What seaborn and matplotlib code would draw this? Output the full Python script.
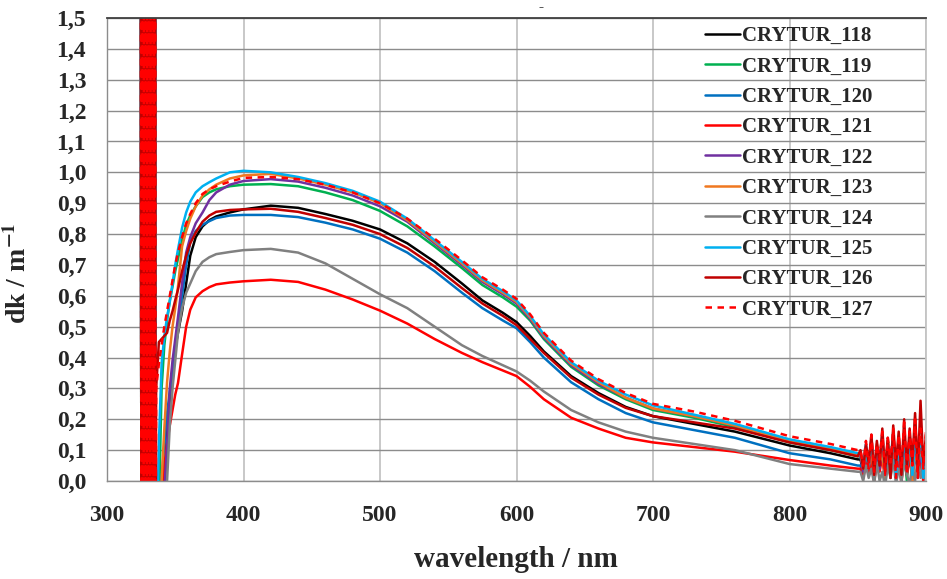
import numpy as np
import pandas as pd
import matplotlib
matplotlib.use("Agg")
import matplotlib.pyplot as plt
import seaborn as sns

# ---------------- data ----------------
series_names = ["CRYTUR_118", "CRYTUR_119", "CRYTUR_120", "CRYTUR_121", "CRYTUR_122",
                "CRYTUR_123", "CRYTUR_124", "CRYTUR_125", "CRYTUR_126", "CRYTUR_127"]
series_colors = ["#000000", "#00B050", "#0070C0", "#FF0000", "#7030A0",
                 "#F07820", "#808080", "#00B0F0", "#C00000", "#FF0000"]

# noisy detector region at the left edge
left_wl = [324.8, 325.2, 325.6, 326.0, 326.4, 326.8, 327.2, 327.6, 328.0, 328.4,
           328.8, 329.2, 329.6, 330.0, 330.4, 330.8, 331.2, 331.6, 332.0, 332.4,
           332.8, 333.2, 333.6, 334.0, 334.4, 334.8, 335.2, 335.6]
left_noise = [2.0, -0.4, 2.2, -0.5, 1.9, -0.3, 2.3, -0.4, 2.1, -0.5,
              2.0, -0.3, 2.4, -0.4, 1.8, -0.5, 2.2, -0.3, 2.0, -0.4,
              2.3, -0.5, 1.9, -0.3, 2.1, -0.4, 2.0, -0.3]

# smooth part of the spectra
wl = [336, 338, 340, 342, 344, 346, 348, 350, 352, 355, 358, 361, 365, 370, 375, 380,
      390, 400, 420, 440, 460, 480, 500, 520, 540, 560, 575, 590, 600, 610, 620, 640,
      660, 680, 700, 730, 760, 800, 830, 850]

dk_118 = [-0.3, -0.3, -0.2, -0.03, 0.15, 0.27, 0.36, 0.43, 0.48, 0.55, 0.64, 0.73, 0.79, 0.825, 0.845, 0.857,
          0.87, 0.88, 0.892, 0.885, 0.865, 0.843, 0.815, 0.77, 0.71, 0.64, 0.585, 0.545, 0.515, 0.47, 0.42, 0.34,
          0.285, 0.24, 0.21, 0.185, 0.16, 0.115, 0.09, 0.07]
dk_119 = [-0.3, -0.1, 0.3, 0.44, 0.52, 0.585, 0.63, 0.68, 0.72, 0.78, 0.83, 0.86, 0.89, 0.92, 0.935, 0.945,
          0.955, 0.96, 0.962, 0.955, 0.935, 0.91, 0.875, 0.825, 0.76, 0.69, 0.635, 0.595, 0.565, 0.52, 0.46, 0.37,
          0.31, 0.265, 0.23, 0.205, 0.175, 0.125, 0.1, 0.08]
dk_120 = [-0.3, -0.2, 0.0, 0.12, 0.22, 0.29, 0.35, 0.42, 0.5, 0.6, 0.7, 0.775, 0.81, 0.83, 0.842, 0.852,
          0.86, 0.862, 0.862, 0.855, 0.837, 0.815, 0.785, 0.74, 0.68, 0.61, 0.56, 0.52, 0.495, 0.45, 0.4, 0.32,
          0.265, 0.22, 0.19, 0.165, 0.14, 0.09, 0.07, 0.05]
dk_121 = [-0.3, -0.3, -0.1, 0.05, 0.12, 0.18, 0.23, 0.28, 0.317, 0.41, 0.5, 0.555, 0.595, 0.615, 0.628, 0.637,
          0.643, 0.647, 0.652, 0.645, 0.62, 0.588, 0.552, 0.51, 0.46, 0.415, 0.385, 0.358, 0.34, 0.305, 0.265, 0.205,
          0.17, 0.14, 0.125, 0.11, 0.095, 0.068, 0.05, 0.04]
dk_122 = [-0.3, -0.3, -0.2, -0.03, 0.12, 0.3, 0.39, 0.46, 0.53, 0.64, 0.74, 0.79, 0.835, 0.87, 0.91, 0.935,
          0.96, 0.972, 0.978, 0.97, 0.95, 0.925, 0.89, 0.84, 0.77, 0.7, 0.645, 0.605, 0.575, 0.525, 0.465, 0.375,
          0.315, 0.27, 0.235, 0.21, 0.18, 0.13, 0.105, 0.085]
dk_123 = [-0.3, -0.2, 0.0, 0.17, 0.32, 0.42, 0.5, 0.56, 0.63, 0.76, 0.81, 0.85, 0.89, 0.925, 0.945, 0.96,
          0.98, 0.99, 0.995, 0.98, 0.96, 0.935, 0.9, 0.845, 0.775, 0.705, 0.65, 0.61, 0.58, 0.53, 0.47, 0.38,
          0.32, 0.27, 0.235, 0.21, 0.18, 0.13, 0.105, 0.085]
dk_124 = [-0.3, -0.3, -0.25, -0.15, 0.0, 0.18, 0.3, 0.39, 0.48, 0.56, 0.61, 0.64, 0.68, 0.71, 0.725, 0.735,
          0.742, 0.748, 0.752, 0.74, 0.705, 0.655, 0.605, 0.56, 0.5, 0.44, 0.405, 0.375, 0.355, 0.325, 0.29, 0.23,
          0.19, 0.16, 0.14, 0.12, 0.1, 0.055, 0.04, 0.03]
dk_125 = [-0.3, 0.12, 0.38, 0.47, 0.53, 0.58, 0.64, 0.7, 0.75, 0.82, 0.87, 0.905, 0.935, 0.955, 0.968, 0.98,
          1.0, 1.005, 1.0, 0.985, 0.965, 0.94, 0.905, 0.85, 0.78, 0.71, 0.655, 0.615, 0.585, 0.535, 0.475, 0.385,
          0.325, 0.28, 0.245, 0.215, 0.185, 0.135, 0.11, 0.09]
dk_126 = [0.3, 0.45, 0.46, 0.47, 0.48, 0.52, 0.55, 0.586, 0.62, 0.68, 0.73, 0.77, 0.805, 0.84, 0.86, 0.872,
          0.878, 0.88, 0.882, 0.872, 0.852, 0.83, 0.8, 0.755, 0.695, 0.625, 0.575, 0.535, 0.505, 0.46, 0.415, 0.335,
          0.28, 0.237, 0.21, 0.19, 0.17, 0.125, 0.1, 0.08]
dk_127 = [0.3, 0.38, 0.44, 0.5, 0.55, 0.6, 0.65, 0.7, 0.74, 0.79, 0.835, 0.865, 0.9, 0.93, 0.945, 0.955,
          0.97, 0.982, 0.985, 0.978, 0.96, 0.935, 0.9, 0.85, 0.785, 0.715, 0.66, 0.62, 0.59, 0.54, 0.48, 0.39,
          0.33, 0.285, 0.25, 0.225, 0.195, 0.145, 0.12, 0.1]

# noisy region at the right edge
right_wl = [852, 854, 856, 858, 860, 862, 864, 866, 868, 870, 872, 874, 876, 878, 880,
            882, 884, 886, 888, 890, 892, 894, 896, 898, 900]
rn_118 = [0.07, 0.03, 0.09, 0.05, 0.11, 0.02, 0.08, 0.06, 0.12, 0.03, 0.1, 0.01, 0.13, 0.04, 0.09,
          0.02, 0.12, 0.05, 0.1, 0.01, 0.14, 0.03, 0.09, 0.02, 0.11]
rn_119 = [0.08, 0.04, 0.1, 0.05, 0.12, 0.02, 0.09, 0.06, 0.11, 0.01, 0.13, 0.04, 0.08, 0.02, 0.12,
          0.05, 0.1, 0.0, 0.13, 0.03, 0.09, 0.05, 0.11, 0.01, 0.07]
rn_120 = [0.05, 0.02, 0.07, 0.03, 0.1, 0.01, 0.08, 0.04, 0.12, 0.0, 0.09, 0.03, 0.11, 0.02, 0.13,
          0.0, 0.1, 0.05, 0.14, 0.01, 0.09, 0.03, 0.12, 0.02, 0.08]
rn_121 = [0.04, 0.01, 0.06, 0.02, 0.07, 0.0, 0.05, 0.03, 0.08, 0.0, 0.06, 0.02, 0.09, 0.01, 0.07,
          -0.01, 0.1, 0.02, 0.08, 0.0, 0.2, 0.03, 0.06, 0.0, 0.05]
rn_122 = [0.08, 0.03, 0.1, 0.06, 0.13, 0.02, 0.11, 0.04, 0.14, 0.01, 0.1, 0.05, 0.15, 0.02, 0.12,
          0.0, 0.13, 0.04, 0.11, 0.02, 0.14, 0.01, 0.1, 0.03, 0.12]
rn_123 = [0.09, 0.04, 0.11, 0.05, 0.1, 0.02, 0.12, 0.06, 0.09, 0.01, 0.13, 0.04, 0.1, 0.02, 0.14,
          0.03, 0.09, 0.05, 0.12, 0.0, 0.11, 0.04, 0.13, 0.02, 0.09]
rn_124 = [0.03, 0.0, 0.05, 0.01, 0.04, -0.01, 0.06, 0.0, 0.03, -0.02, 0.05, 0.01, 0.07, -0.01, 0.04,
          0.0, 0.06, 0.02, -0.01, 0.05, 0.0, 0.08, 0.01, 0.04, 0.0]
rn_125 = [0.09, 0.05, 0.12, 0.04, 0.14, 0.03, 0.11, 0.07, 0.15, 0.02, 0.12, 0.06, 0.16, 0.01, 0.13,
          0.05, 0.11, 0.03, 0.15, 0.02, 0.12, 0.06, 0.14, 0.01, 0.1]
rn_126 = [0.1, 0.04, 0.12, 0.06, 0.15, 0.02, 0.13, 0.05, 0.17, 0.03, 0.14, 0.01, 0.18, 0.05, 0.16,
          0.02, 0.2, 0.04, 0.17, 0.06, 0.22, 0.03, 0.26, 0.05, 0.15]
rn_127 = [0.1, 0.05, 0.13, 0.04, 0.15, 0.03, 0.12, 0.07, 0.16, 0.02, 0.14, 0.06, 0.17, 0.01, 0.15,
          0.04, 0.19, 0.02, 0.16, 0.05, 0.2, 0.01, 0.17, 0.04, 0.16]

smooth_values = [dk_118, dk_119, dk_120, dk_121, dk_122, dk_123, dk_124, dk_125, dk_126, dk_127]
right_values = [rn_118, rn_119, rn_120, rn_121, rn_122, rn_123, rn_124, rn_125, rn_126, rn_127]

x_ticks = [300, 400, 500, 600, 700, 800, 900]
x_tick_labels = ["300", "400", "500", "600", "700", "800", "900"]
y_ticks = [0.0, 0.1, 0.2, 0.3, 0.4, 0.5, 0.6, 0.7, 0.8, 0.9, 1.0, 1.1, 1.2, 1.3, 1.4, 1.5]
y_tick_labels = ["0,0", "0,1", "0,2", "0,3", "0,4", "0,5", "0,6", "0,7",
                 "0,8", "0,9", "1,0", "1,1", "1,2", "1,3", "1,4", "1,5"]

# ---------------- figure ----------------
sns.set_style("white")
plt.rcParams["font.family"] = ["Liberation Serif", "DejaVu Serif"]
plt.rcParams["font.weight"] = "bold"
plt.rcParams["mathtext.fontset"] = "stix"

W, H = 947, 579
fig = plt.figure(figsize=(W / 100, H / 100), dpi=100)
ax = fig.add_axes([107 / W, 98 / H, 819 / W, 463 / H])

for name, col, sv, rv in zip(series_names, series_colors, smooth_values, right_values):
    xs = left_wl + wl + right_wl
    ys = left_noise + sv + rv
    df = pd.DataFrame({"wavelength": xs, "dk": ys})
    dashed = name == "CRYTUR_127"
    sns.lineplot(data=df, x="wavelength", y="dk", ax=ax, color=col, lw=1.8,
                 sort=False, estimator=None, label=name,
                 linestyle=(0, (2.6, 2.2)) if dashed else "-")

ax.set_xlim(300, 900)
ax.set_ylim(0, 1.5)
ax.set_xticks(x_ticks)
ax.set_xticklabels(x_tick_labels)
ax.set_yticks(y_ticks)
ax.set_yticklabels(y_tick_labels)
ax.set_xlabel("")
ax.set_ylabel("")

ax.set_axisbelow(True)
ax.yaxis.grid(True, color="#8c8c8c", lw=1.0)
ax.xaxis.grid(True, color="#c4c4c4", lw=1.3)

for s in ["left", "bottom"]:
    ax.spines[s].set_color("#8c8c8c")
    ax.spines[s].set_linewidth(1.0)
ax.spines["right"].set_color("#c4c4c4")
ax.spines["right"].set_linewidth(1.3)
ax.spines["top"].set_color("#404040")
ax.spines["top"].set_linewidth(1.3)

ax.tick_params(axis="y", direction="out", length=5, width=1, color="#8c8c8c",
               pad=10, labelsize=17)
ax.tick_params(axis="x", direction="out", length=5, width=1, color="#8c8c8c",
               pad=12, labelsize=17)
for lab in ax.get_xticklabels() + ax.get_yticklabels():
    lab.set_fontweight("bold")

fig.text(18 / W, 1 - 273 / H, r"dk / m$^{\mathbf{-1}}$", rotation=90,
         ha="center", va="center", fontsize=20, fontweight="bold")
fig.text(516 / W, 1 - 567 / H, "wavelength / nm", ha="center", va="baseline",
         fontsize=21, fontweight="bold")
fig.text(541 / W, 1 - 8 / H, "-", ha="center", va="center", fontsize=11,
         fontweight="bold")

leg = ax.legend(loc="upper left", bbox_to_anchor=(705 / W, 1 - 26 / H),
                bbox_transform=fig.transFigure, frameon=False, fontsize=15,
                handlelength=1.68, handletextpad=0.1, labelspacing=0.5,
                borderpad=0, borderaxespad=0)
for t in leg.get_texts():
    t.set_fontweight("bold")

fig.savefig("out.png", dpi=100)
